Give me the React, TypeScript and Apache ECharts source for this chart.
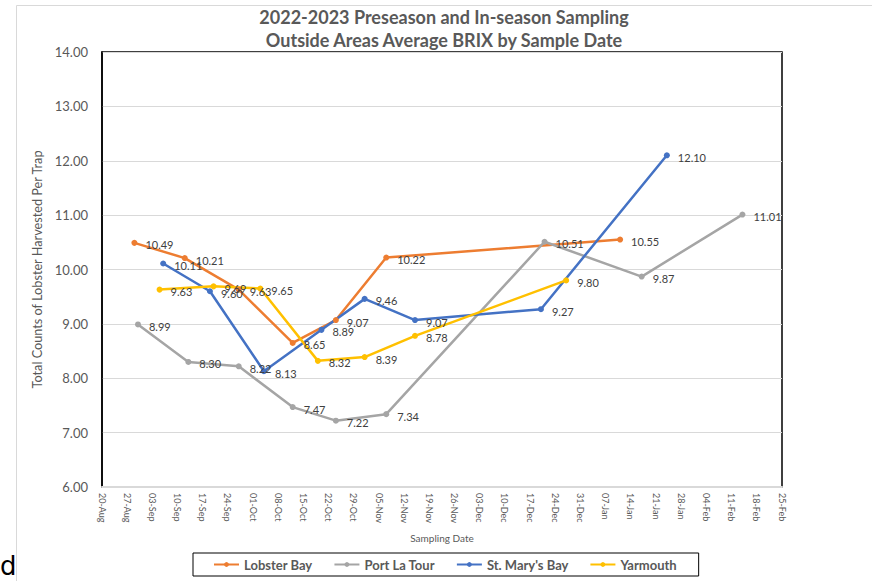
import React, { useEffect, useRef } from "react";
import * as echarts from "echarts";

const seriesNames = ["Lobster Bay", "Port La Tour", "St. Mary's Bay", "Yarmouth"];
const seriesColors = ["#ED7D31", "#A5A5A5", "#4472C4", "#FFC000"];

const lobsterDates = ["2022-08-29", "2022-09-12", "2022-09-27", "2022-10-12", "2022-10-24", "2022-11-07", "2023-01-11"];
const lobsterValues = [10.49, 10.21, 9.63, 8.65, 9.07, 10.22, 10.55];

const portDates = ["2022-08-30", "2022-09-13", "2022-09-27", "2022-10-12", "2022-10-24", "2022-11-07", "2022-12-21", "2023-01-17", "2023-02-14"];
const portValues = [8.99, 8.3, 8.22, 7.47, 7.22, 7.34, 10.51, 9.87, 11.01];

const stMaryDates = ["2022-09-06", "2022-09-19", "2022-10-04", "2022-10-20", "2022-11-01", "2022-11-15", "2022-12-20", "2023-01-24"];
const stMaryValues = [10.11, 9.6, 8.13, 8.89, 9.46, 9.07, 9.27, 12.1];

const yarmouthDates = ["2022-09-05", "2022-09-20", "2022-10-03", "2022-10-19", "2022-11-01", "2022-11-15", "2022-12-27"];
const yarmouthValues = [9.63, 9.69, 9.65, 8.32, 8.39, 8.78, 9.8];

const axisStart = "2022-08-20";
const axisEnd = "2023-02-25";
const yMin = 6;
const yMax = 14;

const monthNames = ["Jan", "Feb", "Mar", "Apr", "May", "Jun", "Jul", "Aug", "Sep", "Oct", "Nov", "Dec"];
const DAY = 86400000;

function toUTC(s: string) {
  const [y, m, d] = s.split("-").map(Number);
  return Date.UTC(y, m - 1, d);
}
const startMs = toUTC(axisStart);
const dayOffset = (s: string) => Math.round((toUTC(s) - startMs) / DAY);

function fmtDay(v: number) {
  const d = new Date(startMs + v * DAY);
  const dd = String(d.getUTCDate()).padStart(2, "0");
  return dd + "-" + monthNames[d.getUTCMonth()];
}

const FONT = "Lato, 'Noto Sans', sans-serif";

export default function App() {
  const ref = useRef<HTMLDivElement>(null);
  useEffect(() => {
    if (!ref.current) return;
    const chart = echarts.init(ref.current, undefined, { renderer: "svg" });
    const allDates = [lobsterDates, portDates, stMaryDates, yarmouthDates];
    const allValues = [lobsterValues, portValues, stMaryValues, yarmouthValues];
    const series = seriesNames.map((name, i) => ({
      name,
      type: "line",
      data: allDates[i].map((d, j) => [dayOffset(d), allValues[i][j]]),
      symbol: "circle",
      symbolSize: 6,
      showAllSymbol: true,
      lineStyle: { color: seriesColors[i], width: 2.5 },
      itemStyle: { color: seriesColors[i] },
      label: {
        show: true,
        position: "right",
        distance: 8,
        offset: [0, 2],
        formatter: (p: any) => Number(p.value[1]).toFixed(2),
        color: "#404040",
        fontSize: 11,
        fontFamily: FONT,
      },
      emphasis: { disabled: true },
    }));
    chart.setOption({
      animation: false,
      textStyle: { fontFamily: FONT },
      title: {
        text: "2022-2023 Preseason and In-season Sampling\nOutside Areas Average BRIX by Sample Date",
        left: 444,
        top: 5,
        padding: 0,
        textAlign: "center",
        textStyle: { fontSize: 18, fontWeight: "bold", color: "#595959", lineHeight: 23, fontFamily: FONT },
      },
      graphic: [
        { type: "rect", shape: { x: 16.5, y: 5.5, width: 900, height: 700 }, style: { fill: "none", stroke: "#D9D9D9", lineWidth: 1 }, z: -10 },
        { type: "text", left: 0, top: 553, style: { text: "d", fontSize: 26, fill: "#000", fontFamily: "'DejaVu Sans', sans-serif" } },
      ],
      legend: {
        left: 193,
        top: 553,
        padding: [5, 22, 5, 20],
        borderColor: "#000",
        borderWidth: 1,
        itemWidth: 25,
        itemHeight: 6,
        itemGap: 21,
        textStyle: { fontSize: 13, fontWeight: "bold", color: "#595959", fontFamily: FONT },
        data: seriesNames,
      },
      grid: {
        left: 102,
        top: 52,
        width: 680,
        height: 435,
        show: true,
        borderColor: "#000",
        borderWidth: 1.5,
        containLabel: false,
      },
      xAxis: {
        type: "value",
        min: 0,
        max: dayOffset(axisEnd),
        interval: 7,
        name: "Sampling Date",
        nameLocation: "middle",
        nameGap: 46,
        nameTextStyle: { fontSize: 10, color: "#595959", fontFamily: FONT },
        axisLine: { show: true, lineStyle: { color: "#D9D9D9", width: 2 } },
        axisTick: { show: false },
        splitLine: { show: false },
        axisLabel: {
          rotate: -90,
          fontSize: 9,
          color: "#595959",
          margin: 6,
          formatter: (v: number) => fmtDay(v),
          showMinLabel: true,
          showMaxLabel: true,
        },
      },
      yAxis: {
        type: "value",
        min: yMin,
        max: yMax,
        interval: 1,
        name: "Total Counts of Lobster Harvested Per Trap",
        nameLocation: "middle",
        nameGap: 54,
        nameTextStyle: { fontSize: 12.7, color: "#595959", fontFamily: FONT },
        axisLine: { show: true, lineStyle: { color: "#000", width: 1.5 } },
        axisTick: { show: false },
        splitLine: { show: true, lineStyle: { color: "#D9D9D9", width: 1 } },
        axisLabel: {
          fontSize: 13,
          color: "#595959",
          margin: 14,
          formatter: (v: number) => v.toFixed(2),
        },
      },
      series,
    });
    return () => chart.dispose();
  }, []);
  return <div ref={ref} style={{ position: "fixed", left: 0, top: 0, width: 872, height: 581, background: "#fff" }} />;
}
